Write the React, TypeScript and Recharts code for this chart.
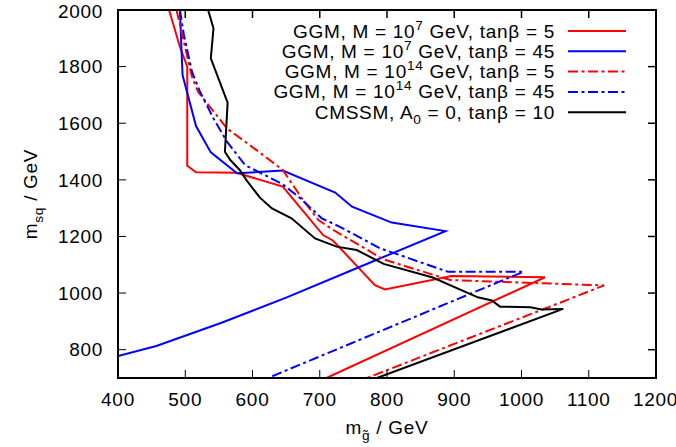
import React from "react";
import { LineChart, Line, XAxis, YAxis } from "recharts";

const X_TICKS = [400, 500, 600, 700, 800, 900, 1000, 1100, 1200];
const Y_TICKS = [800, 1000, 1200, 1400, 1600, 1800, 2000];

// GGM, M = 10^7 GeV, tanb = 5
const GGM7_TB5 = [
  { x: 476, y: 2000 }, { x: 492, y: 1870 }, { x: 503, y: 1800 },
  { x: 503, y: 1450 }, { x: 516, y: 1427 }, { x: 576, y: 1425 },
  { x: 645, y: 1376 }, { x: 705, y: 1205 }, { x: 720, y: 1185 },
  { x: 782, y: 1028 }, { x: 797, y: 1013 }, { x: 896, y: 1060 },
  { x: 1035, y: 1056 }, { x: 710, y: 700 },
];

// GGM, M = 10^7 GeV, tanb = 45
const GGM7_TB45 = [
  { x: 492, y: 2000 }, { x: 496, y: 1770 }, { x: 516, y: 1590 },
  { x: 538, y: 1497 }, { x: 577, y: 1423 }, { x: 645, y: 1433 },
  { x: 723, y: 1355 }, { x: 748, y: 1305 }, { x: 807, y: 1249 },
  { x: 887, y: 1219 }, { x: 760, y: 1093 }, { x: 651, y: 985 },
  { x: 554, y: 895 }, { x: 457, y: 813 }, { x: 400, y: 778 },
];

// GGM, M = 10^14 GeV, tanb = 5
const GGM14_TB5 = [
  { x: 487, y: 2000 }, { x: 510, y: 1764 }, { x: 519, y: 1711 },
  { x: 562, y: 1582 }, { x: 606, y: 1505 }, { x: 645, y: 1435 },
  { x: 675, y: 1329 }, { x: 698, y: 1258 }, { x: 720, y: 1223 },
  { x: 795, y: 1119 }, { x: 894, y: 1046 }, { x: 1123, y: 1027 },
  { x: 770, y: 700 },
];

// GGM, M = 10^14 GeV, tanb = 45
const GGM14_TB45 = [
  { x: 492, y: 2000 }, { x: 498, y: 1912 }, { x: 510, y: 1782 },
  { x: 522, y: 1711 }, { x: 542, y: 1617 }, { x: 562, y: 1535 },
  { x: 589, y: 1452 }, { x: 638, y: 1393 }, { x: 646, y: 1382 },
  { x: 671, y: 1335 }, { x: 703, y: 1264 }, { x: 730, y: 1234 },
  { x: 790, y: 1158 }, { x: 891, y: 1075 }, { x: 1003, y: 1075 },
  { x: 985, y: 1058 }, { x: 623, y: 700 },
];

// CMSSM, A0 = 0, tanb = 10
const CMSSM = [
  { x: 534, y: 2000 }, { x: 542, y: 1935 }, { x: 538, y: 1829 },
  { x: 563, y: 1673 }, { x: 559, y: 1499 }, { x: 567, y: 1470 },
  { x: 581, y: 1435 }, { x: 591, y: 1399 }, { x: 611, y: 1337 },
  { x: 629, y: 1299 }, { x: 658, y: 1264 }, { x: 693, y: 1193 },
  { x: 725, y: 1164 }, { x: 755, y: 1152 }, { x: 795, y: 1103 },
  { x: 868, y: 1055 }, { x: 935, y: 985 }, { x: 956, y: 974 },
  { x: 968, y: 952 }, { x: 1013, y: 950 }, { x: 1030, y: 942 },
  { x: 1062, y: 944 }, { x: 785, y: 700 },
];

const DASH_DOT = "10 3.5 3 3.5";

const SERIES = [
  { name: "GGM, M = 10^{7} GeV, tanβ = 5", color: "#ff0000", dash: undefined, data: GGM7_TB5 },
  { name: "GGM, M = 10^{7} GeV, tanβ = 45", color: "#0000ff", dash: undefined, data: GGM7_TB45 },
  { name: "GGM, M = 10^{14} GeV, tanβ = 5", color: "#ff0000", dash: DASH_DOT, data: GGM14_TB5 },
  { name: "GGM, M = 10^{14} GeV, tanβ = 45", color: "#0000ff", dash: DASH_DOT, data: GGM14_TB45 },
  { name: "CMSSM, A_{0} = 0, tanβ = 10", color: "#000000", dash: undefined, data: CMSSM },
];

const X_MIN = 400;
const X_MAX = 1200;
const Y_MIN = 700;
const Y_MAX = 2000;

// plot box in page pixels
const W = 676;
const H = 447;
const M = { top: 10, right: 20, bottom: 0, left: 8 };
const Y_AXIS_W = 110;
const X_AXIS_H = 69;
const PLOT = {
  left: M.left + Y_AXIS_W,
  right: W - M.right,
  top: M.top,
  bottom: H - M.bottom - X_AXIS_H,
};

const FONT = '"Liberation Sans", Arial, sans-serif';
const FS = 19;
const LS = 0.7;

// split "a^{b}c_{d}" into runs with a baseline shift
const splitRich = (s: string) => {
  const out: { t: string; k: number }[] = [];
  const re = /([\^_])\{([^}]*)\}/g;
  let last = 0;
  let m: RegExpExecArray | null;
  while ((m = re.exec(s)) !== null) {
    if (m.index > last) out.push({ t: s.slice(last, m.index), k: 0 });
    out.push({ t: m[2], k: m[1] === "^" ? 1 : -1 });
    last = re.lastIndex;
  }
  if (last < s.length) out.push({ t: s.slice(last), k: 0 });
  return out;
};

const Rich = ({ s, size }: { s: string; size: number }) => {
  let cur = 0;
  return (
    <>
      {splitRich(s).map((p, i) => {
        const off = p.k === 1 ? -size * 0.42 : p.k === -1 ? size * 0.3 : 0;
        const dy = off - cur;
        cur = off;
        return (
          <tspan key={i} dy={dy} fontSize={p.k ? size * 0.72 : size}>
            {p.t}
          </tspan>
        );
      })}
    </>
  );
};

const XTitle = (props: any) => {
  const { x, y, width } = props.viewBox;
  return (
    <text x={x + width / 2} y={y + 56} textAnchor="middle" fontFamily={FONT} fontSize={FS}
      letterSpacing={LS} fill="#000">
      <Rich s={"m_{g̃} / GeV"} size={FS} />
    </text>
  );
};

const YTitle = (props: any) => {
  const { y, height } = props.viewBox;
  const cx = 37;
  const cy = y + height / 2;
  return (
    <text x={cx} y={cy} textAnchor="middle" fontFamily={FONT} fontSize={FS} letterSpacing={LS}
      fill="#000" transform={`rotate(-90 ${cx} ${cy})`}>
      <Rich s={"m_{sq} / GeV"} size={FS} />
    </text>
  );
};

const tickStyle = { fontFamily: FONT, fontSize: FS, fill: "#000", letterSpacing: LS };
const axisLine = { stroke: "#000", strokeWidth: 1.5 };
const tickLine = { stroke: "#000", strokeWidth: 1 };

const px = (v: number) => PLOT.left + ((v - X_MIN) / (X_MAX - X_MIN)) * (PLOT.right - PLOT.left);
const py = (v: number) => PLOT.top + ((Y_MAX - v) / (Y_MAX - Y_MIN)) * (PLOT.bottom - PLOT.top);

export default function App() {
  return (
    <div style={{ position: "relative", width: W, height: H }}>
      <style>{`html,body{margin:0;overflow:hidden}.recharts-surface{overflow:visible}`}</style>
      <LineChart width={W} height={H} margin={M}>
        <XAxis
          dataKey="x"
          type="number"
          domain={[X_MIN, X_MAX]}
          ticks={X_TICKS}
          allowDataOverflow
          height={X_AXIS_H}
          tickSize={-8}
          tickMargin={23}
          tick={tickStyle}
          axisLine={axisLine}
          tickLine={tickLine}
          label={<XTitle />}
        />
        <YAxis
          type="number"
          domain={[Y_MIN, Y_MAX]}
          ticks={Y_TICKS}
          allowDataOverflow
          width={Y_AXIS_W}
          tickSize={-8}
          tickMargin={23}
          tick={tickStyle}
          axisLine={axisLine}
          tickLine={tickLine}
          label={<YTitle />}
        />
        {SERIES.map((s) => (
          <Line
            key={s.name}
            data={s.data}
            dataKey="y"
            name={s.name}
            type="linear"
            stroke={s.color}
            strokeWidth={2}
            strokeDasharray={s.dash}
            dot={false}
            activeDot={false}
            isAnimationActive={false}
          />
        ))}
      </LineChart>

      <svg width={W} height={H} style={{ position: "absolute", left: 0, top: 0, pointerEvents: "none" }}>
        {/* full border with mirrored ticks */}
        <rect
          x={PLOT.left}
          y={PLOT.top}
          width={PLOT.right - PLOT.left}
          height={PLOT.bottom - PLOT.top}
          fill="none"
          stroke="#000000"
          strokeWidth={2}
        />
        {X_TICKS.map((t) => (
          <line key={`tx${t}`} x1={px(t)} x2={px(t)} y1={PLOT.top} y2={PLOT.top + 8}
            stroke="#000000" strokeWidth={1.5} />
        ))}
        {Y_TICKS.map((t) => (
          <line key={`ty${t}`} x1={PLOT.right} x2={PLOT.right - 8} y1={py(t)} y2={py(t)}
            stroke="#000000" strokeWidth={1.5} />
        ))}

        {/* key, top right inside the frame */}
        {SERIES.map((s, i) => {
          const cy = 31 + i * 20.3;
          return (
            <g key={s.name}>
              <text x={555} y={cy + 6.5} textAnchor="end" fontFamily={FONT} fontSize={FS}
                letterSpacing={LS} fill="#000">
                <Rich s={s.name} size={FS} />
              </text>
              <line x1={568} x2={626} y1={cy} y2={cy} stroke={s.color} strokeWidth={2} strokeDasharray={s.dash} />
            </g>
          );
        })}
      </svg>
    </div>
  );
}
